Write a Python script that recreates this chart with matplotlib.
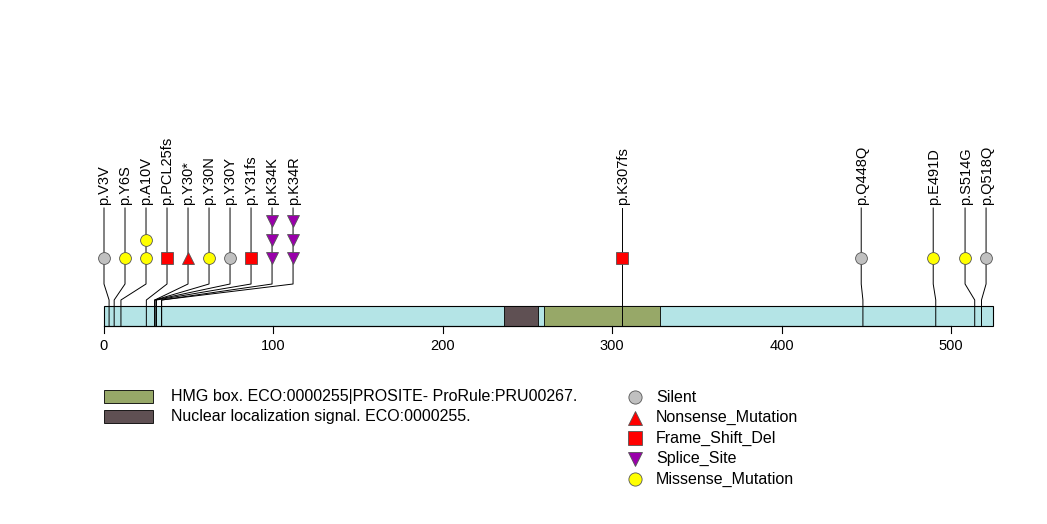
import matplotlib
matplotlib.use("Agg")
import matplotlib.pyplot as plt
from matplotlib.patches import Rectangle

plt.rcParams['font.family'] = ['Liberation Sans', 'DejaVu Sans']

protein_len = 525
domains = [("HMG box. ECO:0000255|PROSITE- ProRule:PRU00267.", 260, 328, "#97a868"),
           ("Nuclear localization signal. ECO:0000255.", 236, 256, "#5f5053")]
labels = ["p.V3V", "p.Y6S", "p.A10V", "p.PCL25fs", "p.Y30*", "p.Y30N", "p.Y30Y", "p.Y31fs",
          "p.K34K", "p.K34R", "p.K307fs", "p.Q448Q", "p.E491D", "p.S514G", "p.Q518Q"]
positions = [3, 6, 10, 25, 30, 30, 30, 31, 34, 34, 306, 448, 491, 514, 518]
types = ["Silent", "Missense_Mutation", "Missense_Mutation", "Frame_Shift_Del", "Nonsense_Mutation",
         "Missense_Mutation", "Silent", "Frame_Shift_Del", "Splice_Site", "Splice_Site",
         "Frame_Shift_Del", "Silent", "Missense_Mutation", "Missense_Mutation", "Silent"]
counts = [1, 1, 2, 1, 1, 1, 1, 1, 3, 3, 1, 1, 1, 1, 1]
label_x = [0, 12.4, 24.8, 37.2, 49.6, 62.0, 74.4, 86.8, 99.2, 111.6, 306, 447, 489.5, 508.3, 520.7]

styles = {"Silent": ("o", "#c0c0c0"), "Nonsense_Mutation": ("^", "#ff0000"),
          "Frame_Shift_Del": ("s", "#ff0000"), "Splice_Site": ("v", "#9900aa"),
          "Missense_Mutation": ("o", "#ffff00")}
legend_order = ["Silent", "Nonsense_Mutation", "Frame_Shift_Del", "Splice_Site", "Missense_Mutation"]

W, H = 1047, 524
fig = plt.figure(figsize=(W/100, H/100), dpi=100)
ax = fig.add_axes([0, 0, 1, 1])
s = 1.694  # px per residue
x0 = 104
ax.set_xlim(-x0/s, (W-x0)/s)
ax.set_ylim(H, 0)
ax.axis('off')
px = 1/s

ax.add_patch(Rectangle((0, 306), protein_len, 20, facecolor="#b4e4e6", edgecolor="black", lw=0.8, zorder=1))
for name, a, b, c in domains:
    ax.add_patch(Rectangle((a, 306), b-a, 20, facecolor=c, edgecolor="black", lw=0.6, zorder=2))

ax.plot([0, 500], [326, 326], color="black", lw=0.8, zorder=3)
for t in range(0, 501, 100):
    ax.plot([t, t], [326, 333], color="black", lw=0.8)
    ax.text(t, 339, str(t), ha="center", va="top", fontsize=10.5)

for lab, p, ty, n, lx in zip(labels, positions, types, counts, label_x):
    m, c = styles[ty]
    ax.plot([p, p, lx, lx], [326, 300, 284, 208], color="black", lw=0.7, zorder=3)
    for k in range(n):
        ax.plot(lx, 258 - 18.5*k, marker=m, ms=9 if m != "o" else 8.5, mfc=c, mec="#555555",
                mew=0.6, ls="none", zorder=4)
    ax.text(lx + 0.5*px, 205, lab, rotation=90, ha="center", va="bottom", fontsize=10.5)

for i, (name, a, b, c) in enumerate(domains):
    y = 390 + 20*i
    ax.add_patch(Rectangle((0, y), 49*px, 13, facecolor=c, edgecolor="black", lw=0.6))
    ax.text(67*px, y+7, name, va="center", fontsize=11.5)

for i, ty in enumerate(legend_order):
    m, c = styles[ty]
    y = 397 + 20.5*i
    ax.plot((635-x0)*px, y, marker=m, ms=10 if m != "o" else 9.5, mfc=c, mec="#555555", mew=0.6, ls="none")
    ax.text((656-x0)*px, y, ty, va="center", fontsize=11.5)

fig.savefig("out.png", dpi=100)
